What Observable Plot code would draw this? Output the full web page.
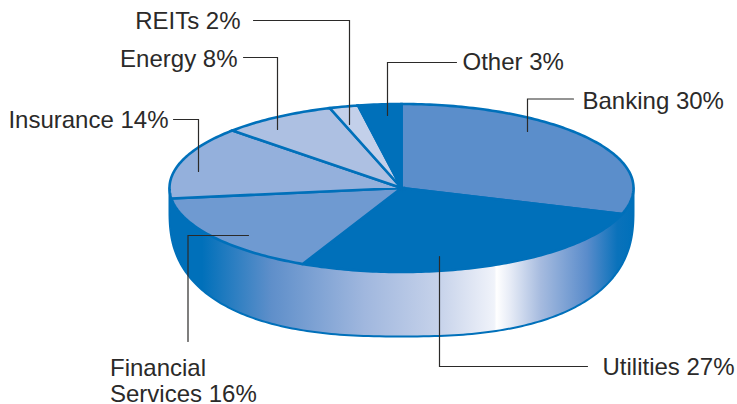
<!DOCTYPE html>
<html><head><meta charset="utf-8">
<style>html,body{margin:0;padding:0;background:#fff}svg{display:block}</style>
<script src="https://cdn.jsdelivr.net/npm/d3@7"></script>
<script src="https://cdn.jsdelivr.net/npm/@observablehq/plot@0.6"></script>
</head><body><script>
const categories = ["Banking","Utilities","Financial\nServices","Insurance","Energy","REITs","Other"];
const shares = [30,27,16,14,8,2,3];
const sliceColors = ["#5b8ecb","#0070ba","#6f9ad1","#94b0dc","#adc0e2","#c3d0ea","#0070ba"];

// label placement, leader routes (layout, not data)
const labelX = [582,602,109.5,168,237,240,462];
const labelY = [100,366,380.5,119,58,20,61];
const labelAnchor = ["start","start","start","end","end","end","start"];
const leaderX = [[573,527,527],[587,439,439],[248,187.5,187.5],[173,198,198],[243,277,277],[253,349,349],[456,387,387]];
const leaderY = [[98.5,98.5,131],[366,366,256],[235,235,341],[119,119,171],[57,57,129],[20,20,124],[62,62,115]];

const W = 737, H = 404;
const top_ = {cx:401, cy:187.5, rx:232, ry:84};
const base = {cx:401, cy:210, rx:232, ry:126, n:2.5};
const edge = "#0070ba";
const ink = "#2b2a29";
const sideStops = [[0,"#0070ba"],[.07,"#0070ba"],[.22,"#5f8fca"],[.42,"#a0b7de"],[.58,"#c6d2ea"],[.70,"#f0f3fa"],[.705,"#ffffff"],[.735,"#e6ebf6"],[.80,"#a6bbdf"],[.90,"#5a8ccb"],[.965,"#0a72bb"],[1,"#0070ba"]];

const on = (e,t) => ({x:e.cx+e.rx*Math.sin(t), y:e.cy-e.ry*Math.cos(t)});
const onBase = t => {
  const s = Math.sin(t), c = Math.cos(t), p = 2/base.n;
  return {x:base.cx+base.rx*Math.sign(s)*Math.abs(s)**p, y:base.cy+base.ry*Math.abs(c)**p};
};
const cum = [0, ...d3.cumsum(shares)];
const turn = p => p/100*2*Math.PI;

const slices = categories.flatMap((category,i) => {
  const n = Math.max(2, Math.round(shares[i]*3.6));
  const arc = d3.range(n+1).map(k => ({category, color:sliceColors[i], ...on(top_, turn(cum[i]+(cum[i+1]-cum[i])*k/n))}));
  return [{category, color:sliceColors[i], x:top_.cx, y:top_.cy}, ...arc];
});
const rimBottom = d3.range(90,271,1).map(a => onBase(a*Math.PI/180));
const body = [{x:top_.cx+top_.rx,y:top_.cy}, ...rimBottom, {x:top_.cx-top_.rx,y:top_.cy}];
const outline = d3.range(0,361,2).map(a => on(top_,a*Math.PI/180));

const leaders = categories.flatMap((category,i) => leaderX[i].map((x,k) => ({category,x,y:leaderY[i][k]})));
const labels = categories.map((category,i) => ({text:`${category} ${shares[i]}%`, x:labelX[i], y:labelY[i], anchor:labelAnchor[i]}));

const defs = () => {
  const d = d3.create("svg:defs");
  const g = d.append("linearGradient").attr("id","side").attr("gradientUnits","userSpaceOnUse")
    .attr("x1",top_.cx-top_.rx).attr("x2",top_.cx+top_.rx).attr("y1",0).attr("y2",0);
  sideStops.forEach(([o,c]) => g.append("stop").attr("offset",o).attr("stop-color",c));
  return d.node();
};
const textStyle = {x:"x",y:"y",text:"text",fontSize:24,fill:ink,lineHeight:1.08,lineAnchor:"middle"};

const chart = Plot.plot({
  width:W, height:H, margin:0,
  x:{domain:[0,W],range:[0,W],axis:null},
  y:{domain:[0,H],range:[0,H],axis:null},
  color:{type:"identity"},
  style:{fontFamily:"'Liberation Sans',Arial,sans-serif",background:"#fff"},
  marks:[
    defs,
    Plot.line(body,{x:"x",y:"y",curve:"linear-closed",fill:"url(#side)",stroke:edge,strokeWidth:2}),
    Plot.line(outline,{x:"x",y:"y",curve:"linear-closed",fill:edge,stroke:edge,strokeWidth:1}),
    Plot.line(slices,{x:"x",y:"y",z:"category",fill:"color",curve:"linear-closed",stroke:edge,strokeWidth:2.6,strokeLinejoin:"miter",strokeMiterlimit:6}),
    Plot.line(leaders,{x:"x",y:"y",z:"category",stroke:ink,strokeWidth:1.2,strokeLinejoin:"miter",strokeMiterlimit:4}),
    Plot.text(labels.filter(d => d.anchor==="start"),{...textStyle,textAnchor:"start"}),
    Plot.text(labels.filter(d => d.anchor==="end"),{...textStyle,textAnchor:"end"})
  ]
});
document.body.append(chart);
</script></body></html>
